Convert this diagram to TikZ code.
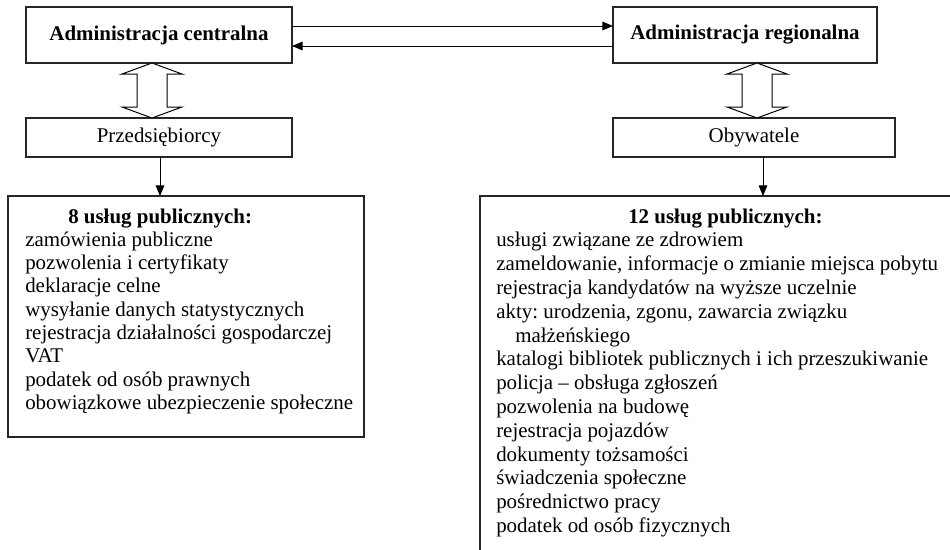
\documentclass[tikz,border=0pt]{standalone}
\usepackage{fontspec}
\setmainfont{Liberation Serif}
\usetikzlibrary{arrows.meta,calc}
\frenchspacing
\begin{document}
\begin{tikzpicture}[x=0.75pt,y=-0.75pt,
  every node/.style={font=\fontsize{15.7pt}{18pt}\selectfont\frenchspacing},
  box/.style={draw=black!85,line width=0.9pt,inner sep=0pt,outer sep=0pt},
  conn/.style={draw=black,line width=0.75pt,-{Triangle[length=8pt,width=6.5pt]}},
  hollow/.style={draw=black,line width=0.75pt,fill=white,line join=miter},
  txt/.style={anchor=base west,inner sep=0pt}]
\useasboundingbox (0,0) rectangle (950,550);
\clip (0,0) rectangle (950,550);
\fill[white] (0,0) rectangle (950,550);
% top boxes
\node[box,minimum width=199.5pt,minimum height=42pt] (AC) at (159,35) {\bfseries Administracja centralna};
\node[box,minimum width=198pt,minimum height=42pt] (AR) at (745,35) {\bfseries Administracja regionalna};
% middle boxes
\node[box,minimum width=199.5pt,minimum height=29.25pt] (P) at (159,137.5) {Przedsiębiorcy};
\node[box,minimum width=211.5pt,minimum height=29.25pt] (O) at (754,137.5) {Obywatele};
% big boxes
\node[box,anchor=north west,minimum width=267pt,minimum height=180.75pt] (L) at (8,196) {};
\node[box,anchor=north west,minimum width=360pt,minimum height=277.5pt] (R) at (480,196) {};
% horizontal arrows
\draw[conn] ([yshift=6.75pt]AC.east) -- ([yshift=6.75pt]AR.west);
\draw[conn] ([yshift=-8.25pt]AR.west) -- ([yshift=-8.25pt]AC.east);
% hollow double arrows
\draw[hollow] ([xshift=-5.25pt]AC.south) -- ++(30,11) -- ++(-15,0) -- ++(0,33) -- ++(15,0)
  -- ++(-30,11) -- ++(-30,-11) -- ++(15,0) -- ++(0,-33) -- ++(-15,0) -- cycle;
\draw[hollow] ([xshift=9pt]AR.south) -- ++(30,11) -- ++(-15,0) -- ++(0,33) -- ++(15,0)
  -- ++(-30,11) -- ++(-30,-11) -- ++(15,0) -- ++(0,-33) -- ++(-15,0) -- cycle;
% down arrows
\draw[conn] ([xshift=0.75pt]P.south) -- ([xshift=0.75pt]P.south |- L.north);
\draw[conn] ([xshift=6.75pt]O.south) -- ([xshift=6.75pt]O.south |- R.north);
% left list
\node[txt] (Lt) at (68,223) {\bfseries 8 usług publicznych:};
\foreach \t [count=\i] in {zamówienia publiczne,pozwolenia i certyfikaty,deklaracje celne,
  wysyłanie danych statystycznych,rejestracja działalności gospodarczej,VAT,
  podatek od osób prawnych,obowiązkowe ubezpieczenie społeczne}
  \node[txt] (L\i) at (25,223+23.3*\i) {\t};
% right list
\node[txt] (Rt) at (628,223) {\bfseries 12 usług publicznych:};
\foreach \t/\dx [count=\i] in {usługi związane ze zdrowiem/0,
  {zameldowanie, informacje o zmianie miejsca pobytu}/0,
  rejestracja kandydatów na wyższe uczelnie/0,
  {akty: urodzenia, zgonu, zawarcia związku}/0,
  małżeńskiego/19,
  katalogi bibliotek publicznych i ich przeszukiwanie/0,
  policja – obsługa zgłoszeń/0,
  pozwolenia na budowę/0,
  rejestracja pojazdów/0,
  dokumenty tożsamości/0,
  świadczenia społeczne/0,
  pośrednictwo pracy/0,
  podatek od osób fizycznych/0}
  \node[txt] (R\i) at (496+\dx,223+23.8*\i) {\t};
\end{tikzpicture}
\end{document}
